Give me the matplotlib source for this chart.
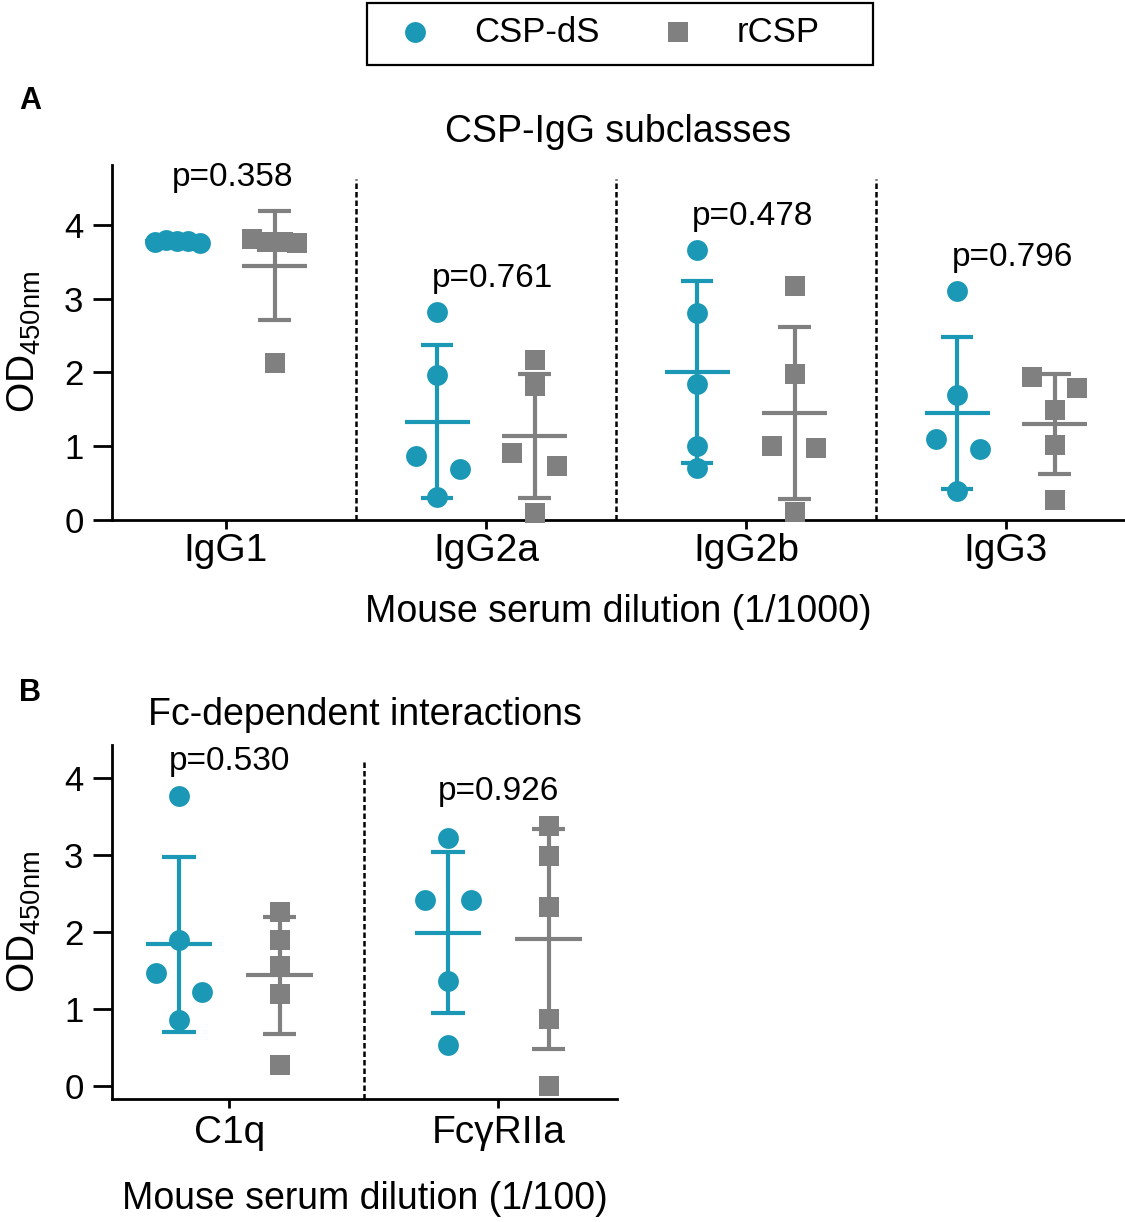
import numpy as np
import matplotlib
matplotlib.use('Agg')
import matplotlib.pyplot as plt
from matplotlib.patches import Rectangle

plt.rcParams['font.family'] = ['Liberation Sans', 'DejaVu Sans']
plt.rcParams['mathtext.fontset'] = 'custom'
plt.rcParams['mathtext.rm'] = 'Liberation Sans'
plt.rcParams['mathtext.default'] = 'regular'

# ---------------- data ----------------
series = ['CSP-dS', 'rCSP']

subclasses = ['IgG1', 'IgG2a', 'IgG2b', 'IgG3']
igg_dS = [[3.78, 3.80, 3.79, 3.79, 3.76],
          [2.82, 1.97, 0.86, 0.69, 0.31],
          [3.66, 2.81, 1.84, 1.00, 0.70],
          [3.11, 1.69, 1.10, 0.96, 0.39]]
igg_r = [[3.81, 3.78, 3.78, 3.76, 2.13],
         [2.17, 1.81, 0.91, 0.73, 0.09],
         [3.17, 1.98, 1.00, 0.97, 0.11],
         [1.94, 1.79, 1.49, 1.015, 0.27]]
igg_p = ['0.358', '0.761', '0.478', '0.796']

fc_targets = ['C1q', 'FcγRIIa']
fc_dS = [[3.76, 1.89, 1.46, 1.22, 0.85],
         [3.22, 2.41, 2.41, 1.36, 0.53]]
fc_r = [[2.25, 1.89, 1.56, 1.19, 0.27],
        [3.37, 2.98, 2.32, 0.86, 0.00]]
fc_p = ['0.530', '0.926']

# ---------------- layout (horizontal scatter jitter) ----------------
igg_dS_jit = [[-0.087, -0.042, 0, 0.043, 0.086], [0, 0, -0.083, 0.087, 0],
              [0, 0, 0, 0, 0], [0, 0, -0.083, 0.086, 0]]
igg_r_jit = [[-0.088, -0.027, 0.031, 0.088, 0], [0, 0, -0.085, 0.087, 0],
             [0, 0, -0.086, 0.083, 0], [-0.085, 0.086, 0, 0, 0]]
fc_dS_jit = [[0, 0, -0.086, 0.087, 0], [0, -0.087, 0.087, 0, 0]]
fc_r_jit = [[0, 0, 0, 0, 0], [0, 0, 0, 0, 0]]

TEAL = '#1a98b5'
GRAY = '#808080'
W, H = 1125, 1222

fig = plt.figure(figsize=(W / 100, H / 100), dpi=100)


def draw_panel(ax, cats, dS, rr, dSj, rj, pvals, p_dx):
    handles = []
    for i in range(len(cats)):
        tops = []
        for vals, jit, col, mk, off in ((dS[i], dSj[i], TEAL, 'o', -0.187),
                                        (rr[i], rj[i], GRAY, 's', 0.187)):
            v = np.asarray(vals, float)
            m = v.mean()
            sd = v.std(ddof=1)
            xc = i + off
            ax.vlines(xc, m - sd, m + sd, color=col, lw=3, zorder=2)
            ax.hlines([m - sd, m + sd], xc - 0.062, xc + 0.062, color=col, lw=3, zorder=2)
            ax.hlines(m, xc - 0.124, xc + 0.124, color=col, lw=3, zorder=2)
            sc = ax.scatter(xc + np.asarray(jit), v, s=225, marker=mk, color=col,
                            linewidths=0, zorder=3, clip_on=False)
            if i == 0:
                handles.append(sc)
            tops += [v.max(), m + sd]
        ax.text(i + p_dx, max(tops) + 0.34, 'p=' + pvals[i], ha='center',
                va='baseline', fontsize=24)
    y0, y1 = ax.get_ylim()
    for k in range(len(cats) - 1):
        ax.vlines(k + 0.5, y0, y1 - 0.19, color='black', lw=1.8,
                  linestyles=(0, (2.2, 1.2)), zorder=1)
    ax.set_xticks(range(len(cats)))
    ax.set_xticklabels(cats)
    ax.set_yticks([0, 1, 2, 3, 4])
    for s in ('top', 'right'):
        ax.spines[s].set_visible(False)
    for s in ('left', 'bottom'):
        ax.spines[s].set_linewidth(2)
    ax.tick_params(axis='y', length=14, width=2, pad=6.5, labelsize=25)
    ax.tick_params(axis='x', length=6.5, width=2, labelsize=28)
    return handles


# Panel A
axA = fig.add_axes([112 / W, (H - 519.6) / H, 1013 / W, 354.6 / H])
axA.set_xlim(-0.438, 3.458)
axA.set_ylim(0, 4.82)
hA = draw_panel(axA, subclasses, igg_dS, igg_r, igg_dS_jit, igg_r_jit, igg_p, 0.025)
axA.tick_params(axis='x', pad=3)
axA.set_title('CSP-IgG subclasses', fontsize=27, pad=16.5)
axA.set_xlabel('Mouse serum dilution (1/1000)', fontsize=27)
axA.xaxis.set_label_coords(0.5, (519.6 - 622.5) / 354.6)
axA.xaxis.label.set_va('baseline')
axA.set_ylabel(r'OD$_{450nm}$', fontsize=28)
axA.yaxis.set_label_coords((24 - 112) / 1013, 0.5)
axA.yaxis.label.set_va('center')

# Panel B
axB = fig.add_axes([112 / W, (H - 1099) / H, 505 / W, 354 / H])
axB.set_xlim(-0.436, 1.441)
axB.set_ylim(-0.173, 4.425)
draw_panel(axB, fc_targets, fc_dS, fc_r, fc_dS_jit, fc_r_jit, fc_p, 0.0)
axB.tick_params(axis='x', pad=5)
axB.set_title('Fc-dependent interactions', fontsize=27, pad=14.4)
axB.set_xlabel('Mouse serum dilution (1/100)', fontsize=27)
axB.xaxis.set_label_coords(0.5, (1099 - 1209) / 354)
axB.xaxis.label.set_va('baseline')
axB.set_ylabel(r'OD$_{450nm}$', fontsize=28)
axB.yaxis.set_label_coords((24 - 112) / 505, 0.5)
axB.yaxis.label.set_va('center')

# panel letters
fig.text(19 / W, 1 - 109 / H, 'A', fontsize=22, fontweight='bold', ha='left', va='baseline')
fig.text(19 / W, 1 - 701 / H, 'B', fontsize=22, fontweight='bold', ha='left', va='baseline')

# legend
fig.legend(handles=hA, labels=series, loc='center',
           bbox_to_anchor=(609 / W, 1 - 32 / H), ncol=2, frameon=False,
           fontsize=25, handlelength=1.0, handletextpad=1.2, columnspacing=1.75,
           borderpad=0, borderaxespad=0, scatterpoints=1)
fig.add_artist(Rectangle((367 / W, 1 - 65 / H), 506 / W, 62 / H, transform=fig.transFigure,
                         fill=False, ec='black', lw=1.6))

fig.savefig('out.png', dpi=100)
